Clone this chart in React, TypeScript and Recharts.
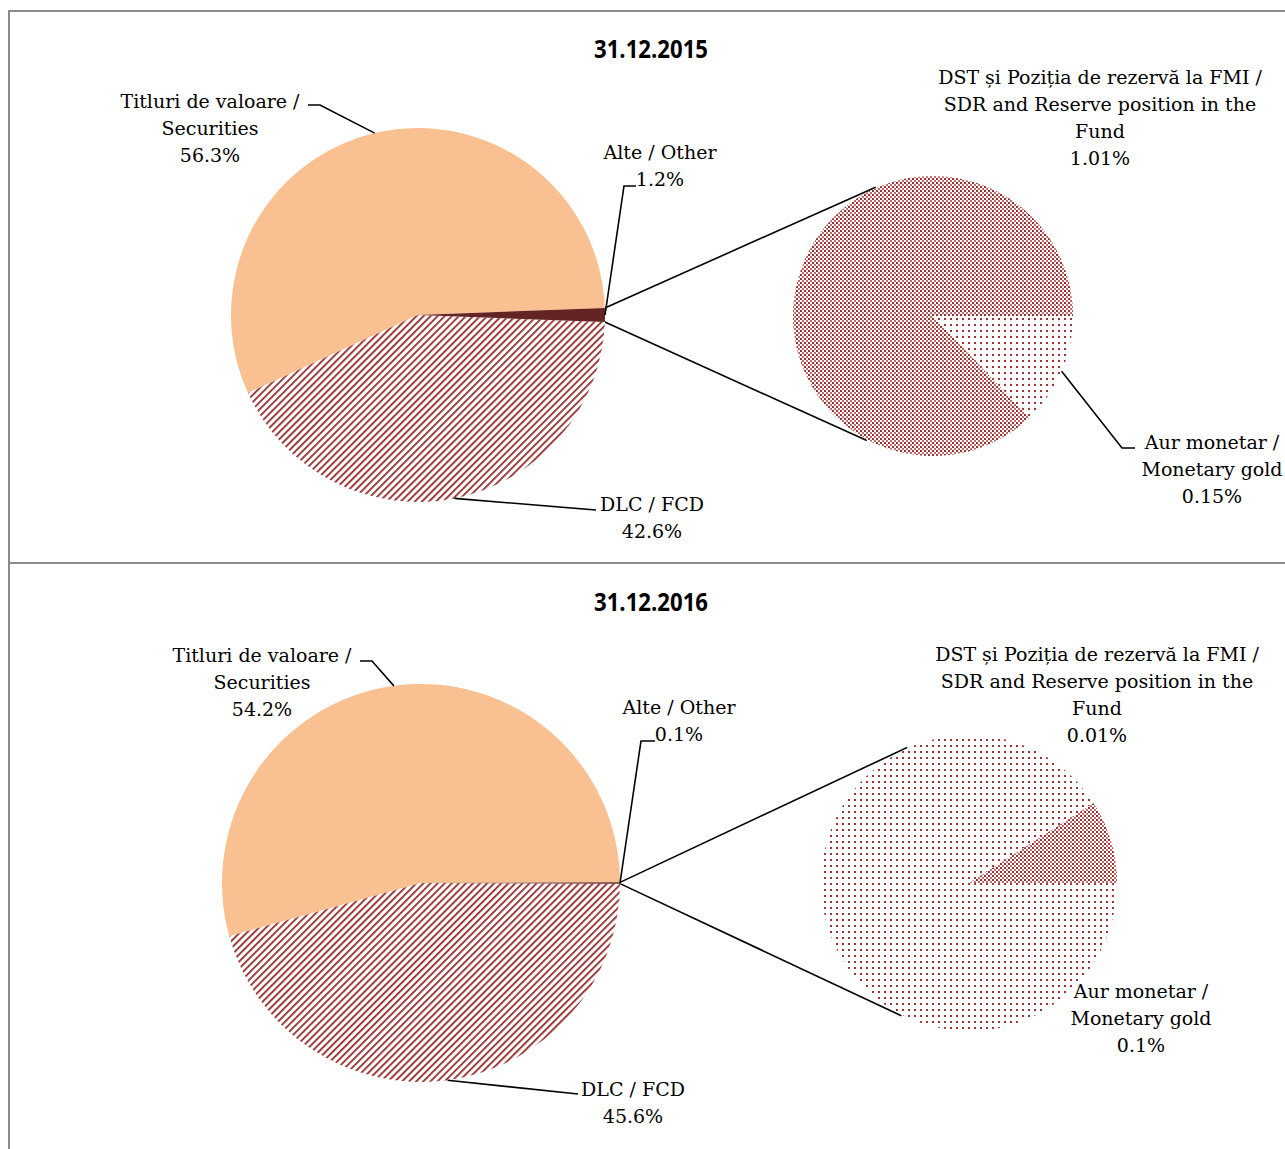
import React from 'react';
import { PieChart, Pie, Cell, Customized } from 'recharts';

// categories of the main pie and of the "Alte / Other" breakdown
const mainNames = ['Titluri de valoare / Securities', 'DLC / FCD', 'Alte / Other'];
const mainLabelLines = [['Titluri de valoare /', 'Securities'], ['DLC / FCD'], ['Alte / Other']];
const subNames = ['DST și Poziția de rezervă la FMI / SDR and Reserve position in the Fund', 'Aur monetar / Monetary gold'];
const subLabelLines = [
    ['DST și Poziția de rezervă la FMI /', 'SDR and Reserve position in the', 'Fund'],
    ['Aur monetar /', 'Monetary gold'],
];

const titles = ['31.12.2015', '31.12.2016'];
const main2015 = [56.3, 42.6, 1.2];
const sub2015 = [1.01, 0.15];
const main2016 = [54.2, 45.6, 0.1];
const sub2016 = [0.01, 0.1];

const mainFills = ['#F9C091', 'url(#hatch)', '#632523'];
const subFills = ['url(#dense)', 'url(#sparse)'];

const LABEL_FONT = '"DejaVu Serif", serif';
const LINE_H = 27;
const RAD = Math.PI / 180;

interface LabelPos {
    x: number;
    y: number;
    path: number[][];
}

interface PanelLayout {
    top: number;
    height: number;
    main: { cx: number; cy: number; r: number };
    sub: { cx: number; cy: number; r: number };
    mainLabels: LabelPos[];
    subLabels: LabelPos[];
    linkAngles: number[];
}

const layouts: PanelLayout[] = [
    {
        top: 10,
        height: 553,
        main: { cx: 418, cy: 305, r: 187 },
        sub: { cx: 933, cy: 306, r: 140 },
        mainLabels: [
            { x: 210, y: 91, path: [[320, 95], [308, 95]] },
            { x: 652, y: 494, path: [[596, 500]] },
            { x: 660, y: 142, path: [[624, 176], [636, 176]] },
        ],
        subLabels: [
            { x: 1100, y: 67, path: [] },
            { x: 1212, y: 432, path: [[1122, 438], [1135, 438]] },
        ],
        linkAngles: [114, -118],
    },
    {
        top: 563,
        height: 586,
        main: { cx: 421, cy: 320, r: 199 },
        sub: { cx: 969, cy: 320, r: 148 },
        mainLabels: [
            { x: 262, y: 92, path: [[372, 98], [360, 98]] },
            { x: 633, y: 526, path: [[578, 531]] },
            { x: 679, y: 144, path: [[641, 178], [655, 178]] },
        ],
        subLabels: [
            { x: 1097, y: 91, path: [] },
            { x: 1141, y: 428, path: [] },
        ],
        linkAngles: [114.5, -117],
    },
];

const polar = (cx: number, cy: number, r: number, deg: number) => ({
    x: cx + r * Math.cos(deg * RAD),
    y: cy - r * Math.sin(deg * RAD),
});

const fmt = (v: number) => `${v}%`;

const makeLabel = (lines: string[][], pos: LabelPos[]) => (props: any) => {
    const { cx, cy, outerRadius, index, value } = props;
    const mid = props.midAngle ?? (props.startAngle + props.endAngle) / 2;
    const p = pos[index];
    const txt = [...lines[index], fmt(value)];
    const edge = polar(cx, cy, outerRadius, mid);
    const pts = [[edge.x, edge.y], ...p.path];
    return (
        <g key={`lbl-${index}`}>
            {p.path.length > 0 && (
                <polyline
                    points={pts.map((q) => q.join(',')).join(' ')}
                    fill="none"
                    stroke="#000"
                    strokeWidth={1.6}
                />
            )}
            {txt.map((t, i) => (
                <text
                    key={i}
                    x={p.x}
                    y={p.y + i * LINE_H}
                    textAnchor="middle"
                    dominantBaseline="central"
                    fontFamily={LABEL_FONT}
                    fontSize={19}
                    fill="#000"
                >
                    {t}
                </text>
            ))}
        </g>
    );
};

const Patterns = () => (
    <defs>
        <pattern id="hatch" patternUnits="userSpaceOnUse" width={5} height={5} patternTransform="rotate(45)">
            <rect width={5} height={5} fill="#fff" />
            <rect x={0} y={0} width={1.8} height={5} fill="#952c2c" />
        </pattern>
        <pattern id="dense" patternUnits="userSpaceOnUse" width={4} height={4}>
            <rect width={4} height={4} fill="#fff" />
            <rect x={0} y={0} width={2} height={2} fill="#9a2f2f" />
            <rect x={2} y={2} width={2} height={2} fill="#c06a6a" />
        </pattern>
        <pattern id="sparse" patternUnits="userSpaceOnUse" width={6} height={6}>
            <rect width={6} height={6} fill="#fff" />
            <rect x={2} y={2} width={2} height={2} fill="#a03333" />
        </pattern>
    </defs>
);

const Panel: React.FC<{ title: string; main: number[]; sub: number[]; layout: PanelLayout }> = ({
    title,
    main,
    sub,
    layout,
}) => {
    const mainData = main.map((v, i) => ({ name: mainNames[i], value: v }));
    const subData = sub.map((v, i) => ({ name: subNames[i], value: v }));
    const total = main.reduce((a, b) => a + b, 0);
    const otherDeg = (main[2] / total) * 360;
    const start = otherDeg / 2;
    const { main: m, sub: s } = layout;

    const Links = () => {
        const a1 = polar(m.cx, m.cy, m.r, otherDeg / 2);
        const a2 = polar(m.cx, m.cy, m.r, -otherDeg / 2);
        const b1 = polar(s.cx, s.cy, s.r + 1, layout.linkAngles[0]);
        const b2 = polar(s.cx, s.cy, s.r + 1, layout.linkAngles[1]);
        return (
            <g>
                <line x1={a1.x} y1={a1.y} x2={b1.x} y2={b1.y} stroke="#000" strokeWidth={1.6} />
                <line x1={a2.x} y1={a2.y} x2={b2.x} y2={b2.y} stroke="#000" strokeWidth={1.6} />
                <text
                    x={651}
                    y={38}
                    textAnchor="middle"
                    dominantBaseline="central"
                    fontFamily='"Open Sans", sans-serif'
                    fontWeight="bold"
                    fontSize={25}
                    textLength={114}
                    lengthAdjust="spacingAndGlyphs"
                    fill="#000"
                >
                    {title}
                </text>
            </g>
        );
    };

    return (
        <div style={{ position: 'absolute', left: 0, top: layout.top, width: 1285, height: layout.height }}>
            <PieChart width={1285} height={layout.height} margin={{ top: 0, right: 0, bottom: 0, left: 0 }}>
                <Patterns />
                <Pie
                    data={mainData}
                    dataKey="value"
                    cx={m.cx}
                    cy={m.cy}
                    outerRadius={m.r}
                    startAngle={start}
                    endAngle={start + 360}
                    stroke="none"
                    isAnimationActive={false}
                    labelLine={false}
                    label={makeLabel(mainLabelLines, layout.mainLabels)}
                >
                    {mainData.map((d, i) => (
                        <Cell key={d.name} fill={mainFills[i]} />
                    ))}
                </Pie>
                <Pie
                    data={subData}
                    dataKey="value"
                    cx={s.cx}
                    cy={s.cy}
                    outerRadius={s.r}
                    startAngle={0}
                    endAngle={360}
                    stroke="none"
                    isAnimationActive={false}
                    labelLine={false}
                    label={makeLabel(subLabelLines, layout.subLabels)}
                >
                    {subData.map((d, i) => (
                        <Cell key={d.name} fill={subFills[i]} />
                    ))}
                </Pie>
                <Customized component={Links} />
            </PieChart>
        </div>
    );
};

const App: React.FC = () => {
    return (
        <div
            style={{
                position: 'absolute',
                left: 0,
                top: 0,
                width: 1285,
                height: 1149,
                background: '#fff',
                overflow: 'hidden',
            }}
        >
            <Panel title={titles[0]} main={main2015} sub={sub2015} layout={layouts[0]} />
            <Panel title={titles[1]} main={main2016} sub={sub2016} layout={layouts[1]} />
            {/* frame lines */}
            <div style={{ position: 'absolute', left: 8, top: 10, width: 1277, height: 2, background: '#8a8a8a' }} />
            <div style={{ position: 'absolute', left: 8, top: 562, width: 1277, height: 2, background: '#8a8a8a' }} />
            <div style={{ position: 'absolute', left: 8, top: 10, width: 2, height: 1139, background: '#8a8a8a' }} />
        </div>
    );
};

export default App;
